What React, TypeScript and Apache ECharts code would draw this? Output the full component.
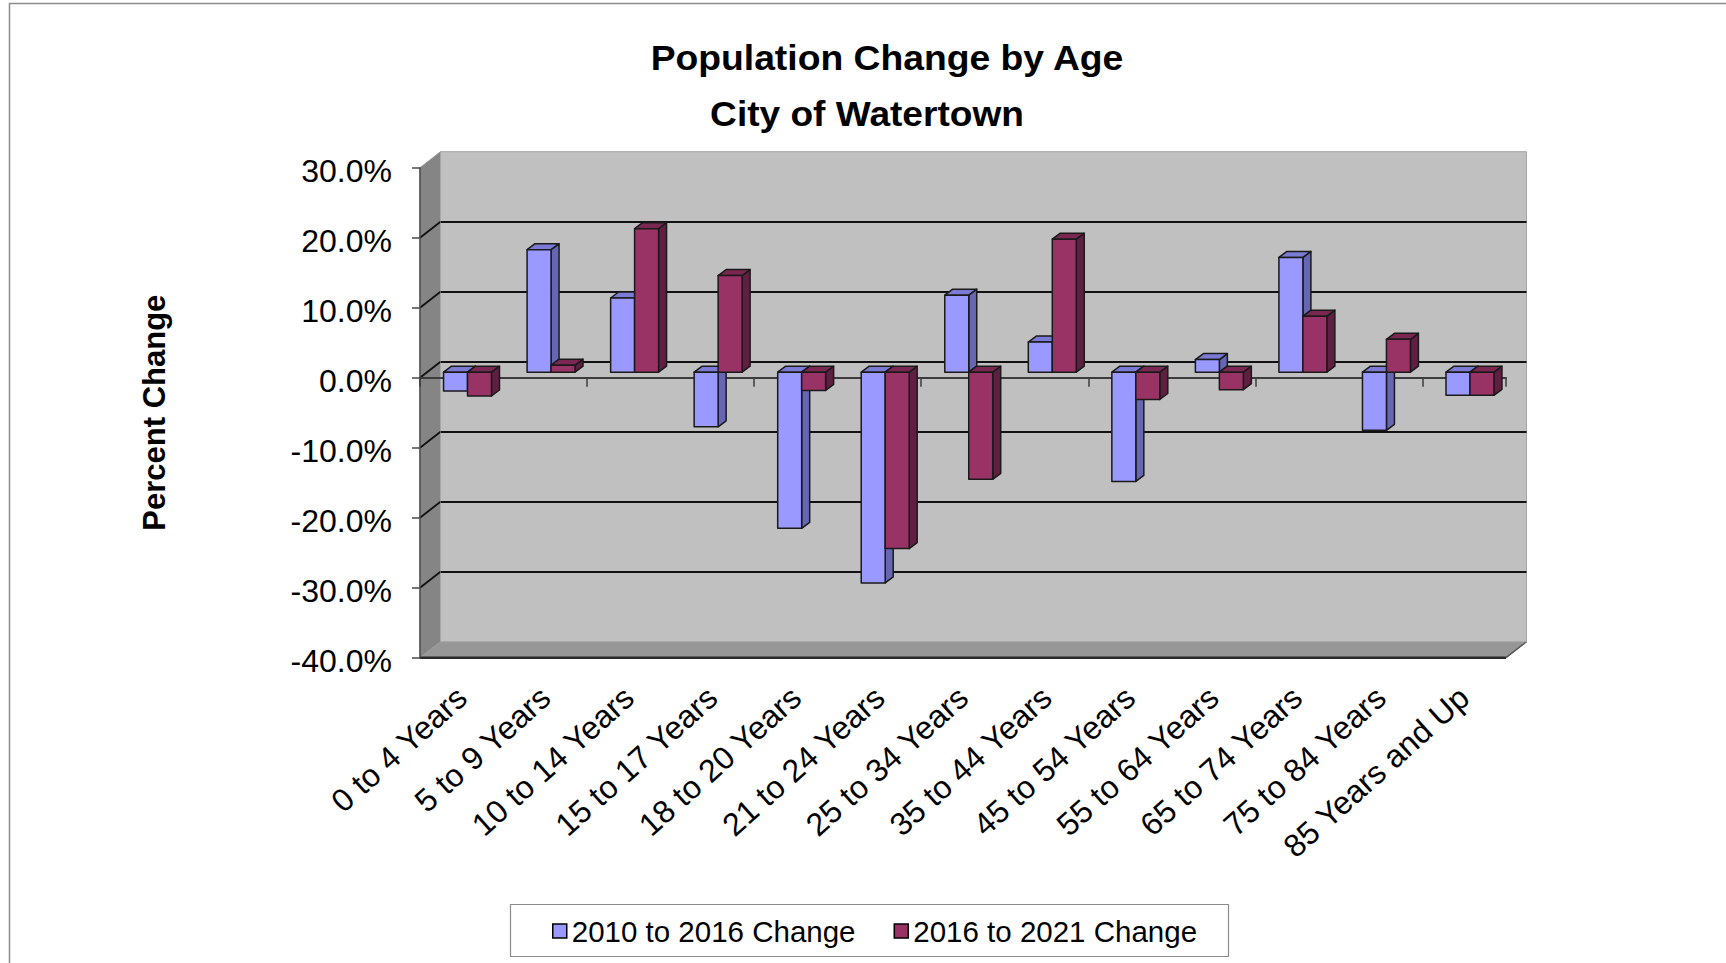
import React, { useEffect, useRef } from "react";
import * as echarts from "echarts";

const categories = [
  "0 to 4 Years",
  "5 to 9 Years",
  "10 to 14 Years",
  "15 to 17 Years",
  "18 to 20 Years",
  "21 to 24 Years",
  "25 to 34 Years",
  "35 to 44 Years",
  "45 to 54 Years",
  "55 to 64 Years",
  "65 to 74 Years",
  "75 to 84 Years",
  "85 Years and Up",
];
const change2010to2016 = [-2.7, 17.5, 10.6, -7.8, -22.3, -30.1, 11.0, 4.3, -15.6, 1.8, 16.4, -8.3, -3.3];
const change2016to2021 = [-3.4, 1.0, 20.5, 13.8, -2.6, -25.2, -15.3, 19.0, -3.9, -2.5, 8.0, 4.7, -3.3];
const seriesNames = ["2010 to 2016 Change", "2016 to 2021 Change"];
const yMin = -40;
const yMax = 30;
const yInterval = 10;
const wallGridValues = [20, 10, 0, -10, -20, -30];

const FONT = '"Liberation Sans", Arial, Helvetica, sans-serif';
// depth of the 3D box (front plane -> back wall)
const DX = 20.5;
const DY = -16;
// bar front plane offset and bar depth
const BAR_DX = 7;
const BAR_DY = -5.5;
const BOX_DX = 8;
const BOX_DY = -6;

const blueColors = { front: "#9999ff", side: "#6666b3", top: "#7b7bd6" };
const redColors = { front: "#993366", side: "#5e1f40", top: "#7a2852" };
const EDGE = "#1a1a1a";

function barRenderer(slot: number, colors: { front: string; side: string; top: string }) {
  return (params: any, api: any) => {
    const idx = api.value(0);
    const v = api.value(1);
    const p0 = api.coord([idx, 0]);
    const pv = api.coord([idx, v]);
    const bw = api.size([1, 0])[0];
    const w = bw * 0.287;
    const left = p0[0] - bw / 2 + BAR_DX + bw * 0.198 + slot * w;
    const top = Math.min(p0[1], pv[1]) + BAR_DY;
    const bottom = Math.max(p0[1], pv[1]) + BAR_DY;
    const right = left + w;
    const st = { stroke: EDGE, lineWidth: 1.5, lineJoin: "round" };
    return {
      type: "group",
      children: [
        {
          type: "polygon",
          shape: {
            points: [
              [right, top],
              [right + BOX_DX, top + BOX_DY],
              [right + BOX_DX, bottom + BOX_DY],
              [right, bottom],
            ],
          },
          style: { ...st, fill: colors.side },
        },
        {
          type: "polygon",
          shape: {
            points: [
              [left, top],
              [left + BOX_DX, top + BOX_DY],
              [right + BOX_DX, top + BOX_DY],
              [right, top],
            ],
          },
          style: { ...st, fill: colors.top },
        },
        {
          type: "rect",
          shape: { x: left, y: top, width: w, height: bottom - top },
          style: { ...st, fill: colors.front },
        },
      ],
    };
  };
}

function wallsRenderer(params: any, api: any) {
  const cs = params.coordSys;
  const l = cs.x;
  const t = cs.y;
  const r = cs.x + cs.width;
  const b = cs.y + cs.height;
  const children: any[] = [
    {
      type: "polygon",
      shape: {
        points: [
          [l, t],
          [l + DX, t + DY],
          [l + DX, b + DY],
          [l, b],
        ],
      },
      style: { fill: "#858585", stroke: "#9a9a9a", lineWidth: 1 },
    },
    {
      type: "polygon",
      shape: {
        points: [
          [l, b],
          [l + DX, b + DY],
          [r + DX, b + DY],
          [r, b],
        ],
      },
      style: { fill: "#979797", stroke: "#9a9a9a", lineWidth: 1 },
    },
    {
      type: "line",
      shape: { x1: l, y1: b, x2: r, y2: b },
      style: { stroke: "#2a2a2a", lineWidth: 2.5 },
    },
    {
      type: "line",
      shape: { x1: r, y1: b, x2: r + DX, y2: b + DY },
      style: { stroke: "#555555", lineWidth: 1.5 },
    },
  ];
  wallGridValues.forEach((v) => {
    const y = api.coord([0, v])[1];
    children.push({
      type: "line",
      shape: { x1: l, y1: y, x2: l + DX, y2: y + DY },
      style: { stroke: "#111111", lineWidth: 1.8 },
    });
  });
  return { type: "group", children };
}

export default function App() {
  const ref = useRef<HTMLDivElement>(null);
  useEffect(() => {
    if (!ref.current) return;
    const chart = echarts.init(ref.current, undefined, { renderer: "svg" });
    const frontGrid = { left: 420, right: 1726 - 1506, top: 167.7, bottom: 963 - 657.7 };
    const backGrid = {
      left: 420 + DX,
      right: 1726 - 1506 - DX,
      top: 167.7 + DY,
      bottom: 963 - 657.7 - DY,
      show: true,
      backgroundColor: "#c0c0c0",
      borderColor: "#a6a6a6",
      borderWidth: 1,
    };
    const option: any = {
      animation: false,
      backgroundColor: "#ffffff",
      textStyle: { fontFamily: FONT },
      grid: [frontGrid, backGrid],
      legend: {
        data: [
          { name: seriesNames[0], itemStyle: { color: blueColors.front, borderColor: "#000", borderWidth: 1.5 } },
          { name: seriesNames[1], itemStyle: { color: redColors.front, borderColor: "#000", borderWidth: 1.5 } },
        ],
        left: 552,
        top: 916,
        padding: 0,
        icon: "rect",
        itemWidth: 14,
        itemHeight: 14,
        itemGap: 38,
        textStyle: { fontSize: 29.5, color: "#000", fontFamily: FONT },
        selectedMode: false,
      },
      xAxis: [
        {
          type: "category",
          gridIndex: 0,
          data: categories,
          position: "bottom",
          axisLine: { show: false, onZero: false },
          axisTick: { show: false },
          axisLabel: {
            interval: 0,
            rotate: 42,
            margin: 35,
            fontSize: 32,
            color: "#000",
            fontFamily: FONT,
          },
          splitLine: { show: false },
        },
        {
          type: "category",
          gridIndex: 0,
          data: categories,
          position: "top",
          axisLine: { show: true, onZero: true, lineStyle: { color: "#3c3c3c", width: 2 } },
          axisTick: { show: true, inside: true, length: 9, lineStyle: { color: "#3c3c3c", width: 1.5 } },
          axisLabel: { show: false },
          splitLine: { show: false },
        },
        {
          type: "category",
          gridIndex: 1,
          data: categories,
          show: false,
        },
      ],
      yAxis: [
        {
          type: "value",
          gridIndex: 0,
          min: yMin,
          max: yMax,
          interval: yInterval,
          name: "Percent Change",
          nameLocation: "middle",
          nameRotate: 90,
          nameGap: 250,
          nameTextStyle: { fontSize: 31, fontWeight: "bold", color: "#000", fontFamily: FONT },
          axisLine: { show: true, lineStyle: { color: "#4a4a4a", width: 1.5 } },
          axisTick: { show: true, length: 8, lineStyle: { color: "#4a4a4a", width: 1.5 } },
          axisLabel: {
            margin: 28,
            fontSize: 32,
            color: "#000",
            fontFamily: FONT,
            verticalAlign: "top",
            lineHeight: 6,
            formatter: (v: number) => v.toFixed(1) + "%",
          },
          splitLine: { show: false },
        },
        {
          type: "value",
          gridIndex: 1,
          min: yMin,
          max: yMax,
          interval: yInterval,
          axisLine: { show: false },
          axisTick: { show: false },
          axisLabel: { show: false },
          splitLine: {
            show: true,
            showMinLine: false,
            showMaxLine: false,
            lineStyle: { color: "#111111", width: 2 },
          },
        },
      ],
      series: [
        {
          type: "custom",
          name: "walls",
          xAxisIndex: 0,
          yAxisIndex: 0,
          z: -5,
          silent: true,
          clip: false,
          data: [[0, 0]],
          renderItem: wallsRenderer,
        },
        {
          type: "custom",
          name: seriesNames[0],
          xAxisIndex: 0,
          yAxisIndex: 0,
          clip: false,
          itemStyle: { color: blueColors.front },
          data: categories.map((_, i) => [i, change2010to2016[i]]),
          renderItem: barRenderer(0, blueColors),
        },
        {
          type: "custom",
          name: seriesNames[1],
          xAxisIndex: 0,
          yAxisIndex: 0,
          clip: false,
          itemStyle: { color: redColors.front },
          data: categories.map((_, i) => [i, change2016to2021[i]]),
          renderItem: barRenderer(1, redColors),
        },
      ],
      graphic: [
        {
          type: "rect",
          z: -10,
          shape: { x: 9.5, y: 3.5, width: 1800, height: 1000 },
          style: { fill: "#ffffff", stroke: "#8c8c8c", lineWidth: 1.5 },
          silent: true,
        },
        {
          type: "rect",
          z: 1,
          shape: { x: 510.5, y: 904.5, width: 718, height: 52 },
          style: { fill: "#ffffff", stroke: "#8c8c8c", lineWidth: 1.2 },
          silent: true,
        },
        {
          type: "text",
          z: 10,
          x: 887,
          y: 58,
          scaleX: 1.065,
          style: {
            text: "Population Change by Age",
            fontSize: 35,
            fontWeight: "bold",
            fontFamily: FONT,
            fill: "#000",
            align: "center",
            verticalAlign: "middle",
          },
        },
        {
          type: "text",
          z: 10,
          x: 867,
          y: 114,
          scaleX: 1.06,
          style: {
            text: "City of Watertown",
            fontSize: 35,
            fontWeight: "bold",
            fontFamily: FONT,
            fill: "#000",
            align: "center",
            verticalAlign: "middle",
          },
        },
      ],
    };
    chart.setOption(option);
    return () => chart.dispose();
  }, []);
  return (
    <div
      ref={ref}
      style={{ position: "fixed", left: 0, top: 0, width: 1726, height: 963, background: "#fff" }}
    />
  );
}
